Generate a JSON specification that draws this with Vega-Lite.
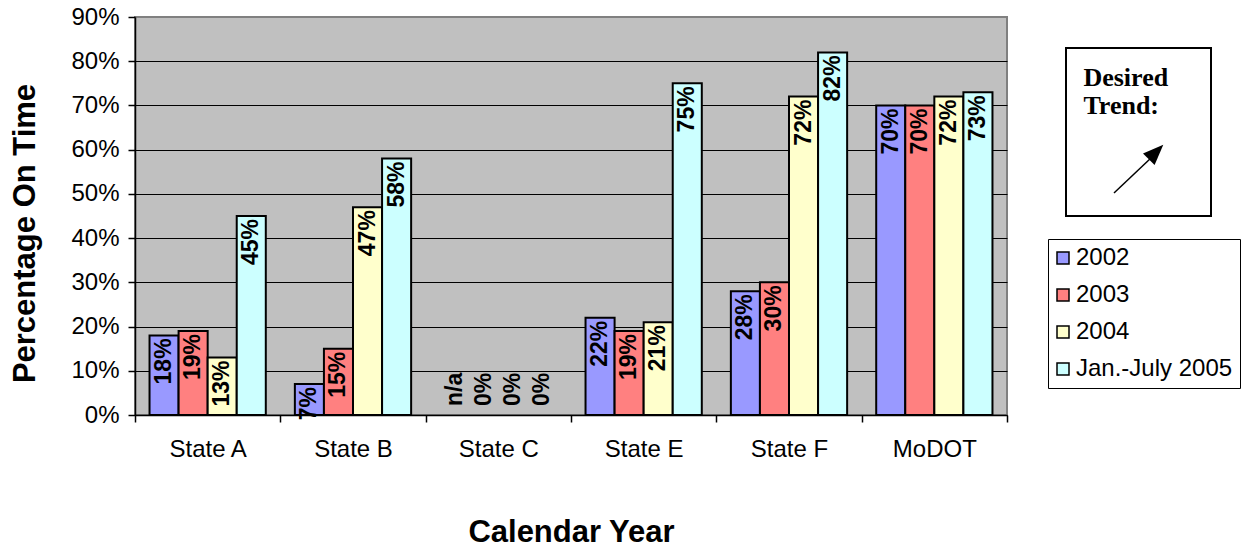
{
  "$schema": "https://vega.github.io/schema/vega-lite/v6.json",
  "autosize": {"type": "pad"},
  "padding": {"left": 8, "top": 4, "right": 0, "bottom": 0},
  "background": "white",
  "bounds": "flush",
  "spacing": 59,
  "config": {"font": "Liberation Sans", "view": {"stroke": null}},
  "datasets": {
    "bars": [
      {"state": "State A", "year": "2002", "value": 18, "label": "18%"},
      {"state": "State A", "year": "2003", "value": 19, "label": "19%"},
      {"state": "State A", "year": "2004", "value": 13, "label": "13%"},
      {"state": "State A", "year": "Jan.-July 2005", "value": 45, "label": "45%"},
      {"state": "State B", "year": "2002", "value": 7, "label": "7%"},
      {"state": "State B", "year": "2003", "value": 15, "label": "15%"},
      {"state": "State B", "year": "2004", "value": 47, "label": "47%"},
      {"state": "State B", "year": "Jan.-July 2005", "value": 58, "label": "58%"},
      {"state": "State C", "year": "2002", "value": 0, "label": "n/a"},
      {"state": "State C", "year": "2003", "value": 0, "label": "0%"},
      {"state": "State C", "year": "2004", "value": 0, "label": "0%"},
      {"state": "State C", "year": "Jan.-July 2005", "value": 0, "label": "0%"},
      {"state": "State E", "year": "2002", "value": 22, "label": "22%"},
      {"state": "State E", "year": "2003", "value": 19, "label": "19%"},
      {"state": "State E", "year": "2004", "value": 21, "label": "21%"},
      {"state": "State E", "year": "Jan.-July 2005", "value": 75, "label": "75%"},
      {"state": "State F", "year": "2002", "value": 28, "label": "28%"},
      {"state": "State F", "year": "2003", "value": 30, "label": "30%"},
      {"state": "State F", "year": "2004", "value": 72, "label": "72%"},
      {"state": "State F", "year": "Jan.-July 2005", "value": 82, "label": "82%"},
      {"state": "MoDOT", "year": "2002", "value": 70, "label": "70%"},
      {"state": "MoDOT", "year": "2003", "value": 70, "label": "70%"},
      {"state": "MoDOT", "year": "2004", "value": 72, "label": "72%"},
      {"state": "MoDOT", "year": "Jan.-July 2005", "value": 73, "label": "73%"}
    ]
  },
  "hconcat": [
    {
      "width": 872,
      "height": 398,
      "view": {"fill": "#C0C0C0", "stroke": "#808080", "strokeWidth": 2},
      "data": {"name": "bars"},
      "encoding": {
        "x": {
          "field": "state", "type": "nominal",
          "sort": ["State A", "State B", "State C", "State E", "State F", "MoDOT"],
          "scale": {"paddingInner": 0, "paddingOuter": 0},
          "axis": {
            "title": "Calendar Year", "tickBand": "extent", "labelAngle": 0,
            "labelFontSize": 24, "labelColor": "black", "labelPadding": 15,
            "tickSize": 7, "tickColor": "black", "tickWidth": 1.5,
            "domainColor": "black", "domainWidth": 1.5,
            "titleFontSize": 31, "titleFontWeight": "bold", "titleColor": "black",
            "titleX": 436, "titleY": 126, "titleBaseline": "alphabetic", "titleAlign": "center",
            "grid": false
          }
        },
        "xOffset": {
          "field": "year", "type": "nominal",
          "sort": ["2002", "2003", "2004", "Jan.-July 2005"],
          "scale": {"paddingInner": 0, "paddingOuter": 0.5}
        },
        "y": {
          "field": "value", "type": "quantitative",
          "scale": {"domain": [0, 90], "nice": false},
          "axis": {
            "values": [0, 10, 20, 30, 40, 50, 60, 70, 80, 90],
            "labelExpr": "datum.value + '%'",
            "title": "Percentage On Time",
            "titleFontSize": 31, "titleFontWeight": "bold", "titleColor": "black",
            "titleX": -101, "titleY": 216, "titleAngle": 270,
            "titleBaseline": "alphabetic", "titleAlign": "center",
            "labelFontSize": 24, "labelColor": "black", "labelPadding": 9,
            "tickSize": 7, "tickColor": "black", "tickWidth": 1.5,
            "domainColor": "black", "domainWidth": 1.5,
            "gridColor": {"condition": {"test": "datum.value == 90", "value": "#808080"}, "value": "black"},
            "gridWidth": 1
          }
        }
      },
      "layer": [
        {
          "transform": [{"filter": "datum.value > 0"}],
          "mark": {"type": "bar", "stroke": "black", "strokeWidth": 2},
          "encoding": {
            "color": {
              "field": "year", "type": "nominal",
              "scale": {
                "domain": ["2002", "2003", "2004", "Jan.-July 2005"],
                "range": ["#9999FF", "#FF8080", "#FFFFCC", "#CCFFFF"]
              },
              "legend": {
                "orient": "none", "legendX": 913, "legendY": 222,
                "title": null, "strokeColor": "black",
                "fillColor": "white", "padding": 7,
                "symbolType": "square", "symbolSize": 144,
                "symbolStrokeColor": "black", "symbolStrokeWidth": 1.5,
                "symbolOffset": -4,
                "labelFontSize": 24, "labelColor": "black", "labelOffset": 1,
                "rowPadding": 13, "labelLimit": 300
              }
            }
          }
        },
        {
          "transform": [{"filter": "datum.value > 0"}],
          "mark": {
            "type": "text", "angle": 270, "align": "right", "baseline": "middle",
            "dx": -3, "fontSize": 23, "fontWeight": "bold", "color": "black"
          },
          "encoding": {"text": {"field": "label"}}
        },
        {
          "transform": [{"filter": "datum.value == 0"}],
          "mark": {
            "type": "text", "angle": 270, "align": "left", "baseline": "middle",
            "dx": 9, "fontSize": 23, "fontWeight": "bold", "color": "black"
          },
          "encoding": {"text": {"field": "label"}}
        }
      ]
    },
    {
      "spacing": 24,
      "vconcat": [
        {
          "width": 145,
          "height": 1,
          "view": {"stroke": null, "fill": null},
          "data": {"values": [{}]},
          "mark": {"type": "text", "text": ""}
        },
        {
          "width": 145,
          "height": 168,
          "view": {"stroke": "black", "strokeWidth": 2, "fill": "white"},
          "data": {"values": [{}]},
          "layer": [
            {
              "mark": {
                "type": "text", "text": ["Desired", "Trend:"], "align": "left", "baseline": "alphabetic",
                "font": "Liberation Serif", "fontWeight": "bold", "fontSize": 26, "lineHeight": 28, "color": "black"
              },
              "encoding": {
                "x": {"datum": 0.12, "type": "quantitative", "scale": {"domain": [0, 1], "nice": false, "zero": false}, "axis": null},
                "y": {"datum": 0.225, "type": "quantitative", "scale": {"domain": [0, 1], "nice": false, "zero": false, "reverse": true}, "axis": null}
              }
            },
            {
              "mark": {"type": "rule", "color": "black", "strokeWidth": 1.5},
              "encoding": {
                "x": {"datum": 0.331, "type": "quantitative"},
                "y": {"datum": 0.863, "type": "quantitative"},
                "x2": {"datum": 0.586},
                "y2": {"datum": 0.655}
              }
            },
            {
              "mark": {
                "type": "point", "shape": "M0,-1L0.8,1L-0.8,1Z", "filled": true,
                "color": "black", "opacity": 1, "size": 420, "angle": 45
              },
              "encoding": {
                "x": {"datum": 0.621, "type": "quantitative"},
                "y": {"datum": 0.619, "type": "quantitative"}
              }
            }
          ]
        }
      ]
    }
  ]
}
